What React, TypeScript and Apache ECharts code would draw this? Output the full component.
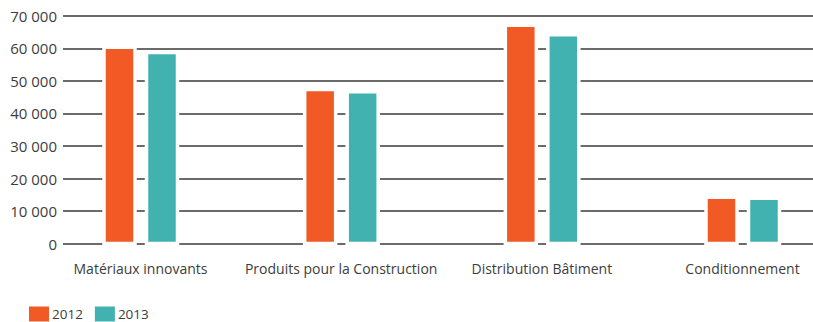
import React, { useEffect, useRef } from "react";
import * as echarts from "echarts";

const categories = [
  "Matériaux innovants",
  "Produits pour la Construction",
  "Distribution Bâtiment",
  "Conditionnement",
];
const series2012 = [59800, 46800, 66500, 13700];
const series2013 = [58200, 46100, 63600, 13400];
const seriesNames = ["2012", "2013"];
const yMin = 0;
const yMax = 70000;
const yStep = 10000;

const ORANGE = "#F15A24";
const TEAL = "#42B2B1";
const TEXT = "#3d3d3d";
const FONT = "Open Sans";

function fmt(v: number): string {
  const s = String(Math.round(v));
  return s.replace(/\B(?=(\d{3})+(?!\d))/g, " ");
}

function makeRenderItem(offset: number, color: string) {
  return (params: any, api: any) => {
    const cat = api.value(0);
    const val = api.value(1);
    const topPt = api.coord([cat, val]);
    const basePt = api.coord([cat, 0]);
    const w = 27.5;
    const pad = 3.5;
    const x = topPt[0] + offset - w / 2;
    const yTop = topPt[1];
    const yBot = basePt[1] - 2;
    return {
      type: "group",
      children: [
        {
          type: "rect",
          shape: { x: x - pad, y: yTop - pad, width: w + 2 * pad, height: basePt[1] + 3 - (yTop - pad) },
          style: { fill: "#ffffff" },
        },
        {
          type: "rect",
          shape: { x, y: yTop, width: w, height: yBot - yTop },
          style: { fill: color },
        },
      ],
    };
  };
}

export default function App() {
  const ref = useRef<HTMLDivElement>(null);
  useEffect(() => {
    if (!ref.current) return;
    const chart = echarts.init(ref.current, undefined, { renderer: "svg" });
    const top = 15.7;
    const height = 228;
    chart.setOption({
      animation: false,
      backgroundColor: "#ffffff",
      textStyle: { fontFamily: FONT },
      legend: {
        left: 29,
        top: 306.5,
        padding: 0,
        itemWidth: 20,
        itemHeight: 15,
        itemGap: 12,
        icon: "rect",
        textStyle: { color: TEXT, fontSize: 13.5, lineHeight: 15, fontFamily: FONT, padding: [0, 0, 0, -2] },
        data: seriesNames,
      },
      grid: [
        { left: 63, right: 0, top, height },
        { left: 140.5, right: 70.5, top, height },
      ],
      xAxis: [
        {
          type: "category",
          gridIndex: 0,
          data: categories,
          show: false,
        },
        {
          type: "category",
          gridIndex: 1,
          data: categories,
          boundaryGap: false,
          axisLine: { show: false },
          axisTick: { show: false },
          axisLabel: { color: TEXT, fontSize: 14, fontFamily: FONT, margin: 18, interval: 0 },
        },
      ],
      yAxis: [
        {
          type: "value",
          gridIndex: 0,
          min: yMin,
          max: yMax,
          interval: yStep,
          axisLine: { show: false },
          axisTick: { show: false },
          axisLabel: {
            color: TEXT,
            fontSize: 15,
            fontFamily: FONT,
            margin: 6,
            formatter: (v: number) => fmt(v),
          },
          splitLine: { show: true, lineStyle: { color: "#3a3a3a", width: 1.6 } },
        },
        {
          type: "value",
          gridIndex: 1,
          min: yMin,
          max: yMax,
          interval: yStep,
          show: false,
          splitLine: { show: false },
        },
      ],
      series: [
        {
          name: seriesNames[0],
          type: "custom",
          xAxisIndex: 1,
          yAxisIndex: 1,
          clip: false,
          itemStyle: { color: ORANGE },
          data: series2012.map((v, i) => [i, v]),
          encode: { x: 0, y: 1 },
          renderItem: makeRenderItem(-21, ORANGE),
        },
        {
          name: seriesNames[1],
          type: "custom",
          xAxisIndex: 1,
          yAxisIndex: 1,
          clip: false,
          itemStyle: { color: TEAL },
          data: series2013.map((v, i) => [i, v]),
          encode: { x: 0, y: 1 },
          renderItem: makeRenderItem(21.5, TEAL),
        },
      ],
    });
    return () => chart.dispose();
  }, []);
  return <div ref={ref} style={{ width: 813, height: 322, position: "absolute", left: 0, top: 0 }} />;
}
